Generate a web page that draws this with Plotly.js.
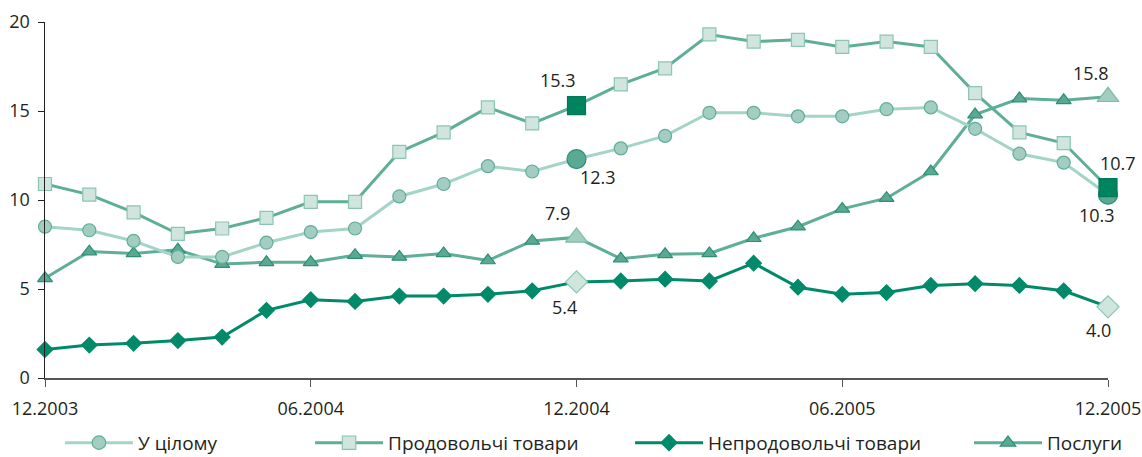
<!DOCTYPE html>
<html>
<head>
<meta charset="utf-8">
<script src="https://cdn.plot.ly/plotly-3.0.1.min.js"></script>
<style>html,body{margin:0;padding:0;background:#fff}#chart{width:1142px;height:457px}</style>
</head>
<body>
<div id="chart"></div>
<script>
const months = ["12.2003","01.2004","02.2004","03.2004","04.2004","05.2004","06.2004","07.2004","08.2004","09.2004","10.2004","11.2004","12.2004","01.2005","02.2005","03.2005","04.2005","05.2005","06.2005","07.2005","08.2005","09.2005","10.2005","11.2005","12.2005"];
const tickLabels = ["12.2003","06.2004","12.2004","06.2005","12.2005"];
const seriesNames = ["У цілому","Продовольчі товари","Непродовольчі товари","Послуги"];
const overall  = [8.5,8.3,7.7,6.8,6.8,7.6,8.2,8.4,10.2,10.9,11.9,11.6,12.3,12.9,13.6,14.9,14.9,14.7,14.7,15.1,15.2,14.0,12.6,12.1,10.3];
const food     = [10.9,10.3,9.3,8.1,8.4,9.0,9.9,9.9,12.7,13.8,15.2,14.3,15.3,16.5,17.4,19.3,18.9,19.0,18.6,18.9,18.6,16.0,13.8,13.2,10.7];
const nonfood  = [1.6,1.85,1.95,2.1,2.3,3.8,4.4,4.3,4.6,4.6,4.7,4.9,5.4,5.45,5.55,5.45,6.45,5.1,4.7,4.8,5.2,5.3,5.2,4.9,4.0];
const services = [5.6,7.1,7.0,7.2,6.4,6.5,6.5,6.9,6.8,7.0,6.6,7.7,7.9,6.7,6.95,7.0,7.85,8.5,9.5,10.1,11.6,14.8,15.7,15.6,15.8];
const highlighted = ["12.2004","12.2005"];

const isHi = m => highlighted.includes(m);
const arr = (a,b) => months.map(m => isHi(m) ? b : a);

const traces = [
  {name: seriesNames[0], y: overall, legend: "legend",
   line: {color: "#a3d4c5", width: 3},
   marker: {symbol: "circle", size: arr(13,19), color: arr("#a3cdc0","#5aa993"), opacity: 1,
            line: {color: arr("#5fae97","#2e8f74"), width: 1.2}}},
  {name: seriesNames[1], y: food, legend: "legend2",
   line: {color: "#5fae97", width: 3},
   marker: {symbol: "square", size: arr(13,18), color: arr("#cfe5dd","#00845f"), opacity: 1,
            line: {color: arr("#8ac6b3","#00785a"), width: 1.2}}},
  {name: seriesNames[2], y: nonfood, legend: "legend3",
   line: {color: "#008a69", width: 3},
   marker: {symbol: "diamond", size: arr(12,17), color: arr("#008a69","#cfe5dd"), opacity: 1,
            line: {color: arr("#008a69","#8ac6b3"), width: 1.2}}},
  {name: seriesNames[3], y: services, legend: "legend4",
   line: {color: "#5fae97", width: 3},
   marker: {symbol: "triangle-up", size: arr(13,19), color: arr("#5aa993","#a3cdc0"), opacity: 1,
            line: {color: arr("#2e8f74","#7cbdaa"), width: 1.2}}}
].map(t => Object.assign({x: months, type: "scatter", mode: "lines+markers", cliponaxis: false}, t));

// draw order: services, nonfood, overall, food (food on top)
const order = [3,2,0,1];
const data = order.map(i => traces[i]);

const labelShifts = [
  {series: food, idx: 12, dx: -19, dy: 26},
  {series: overall, idx: 12, dx: 21, dy: -18},
  {series: services, idx: 12, dx: -19, dy: 24},
  {series: nonfood, idx: 12, dx: -12, dy: -25},
  {series: services, idx: 24, dx: -17, dy: 24},
  {series: food, idx: 24, dx: 10, dy: 25},
  {series: overall, idx: 24, dx: -11, dy: -20},
  {series: nonfood, idx: 24, dx: -10, dy: -23}
];
const annotations = labelShifts.map(a => ({
  x: a.idx, y: a.series[a.idx], xref: "x", yref: "y",
  text: a.series[a.idx].toFixed(1), showarrow: false,
  xshift: a.dx, yshift: a.dy,
  font: {family: "Open Sans", size: 18, color: "#231f20"}
}));

const legFont = {family: "Open Sans", size: 19, color: "#231f20"};
const mkLeg = x => ({x: x, y: 0.031, xref: "container", yref: "container",
  xanchor: "left", yanchor: "middle", orientation: "h",
  font: legFont, bgcolor: "rgba(0,0,0,0)", itemwidth: 68, borderwidth: 0});

const layout = {
  width: 1142, height: 457,
  margin: {l: 45, r: 34, t: 22, b: 79},
  paper_bgcolor: "#fff", plot_bgcolor: "#fff",
  font: {family: "Open Sans", size: 18, color: "#231f20"},
  xaxis: {type: "category", range: [0, 24], tickvals: tickLabels, ticktext: tickLabels,
          showgrid: false, zeroline: false, showline: true, linecolor: "#555", linewidth: 1.5,
          ticks: "outside", ticklen: 7, tickcolor: "#555", ticklabelstandoff: 7,
          tickfont: {family: "Open Sans", size: 18, color: "#231f20"}},
  yaxis: {range: [0, 20], tickvals: [0,5,10,15,20], showgrid: false, zeroline: false,
          showline: true, linecolor: "#231f20", linewidth: 1.5,
          ticks: "outside", ticklen: 6, tickcolor: "#231f20", ticklabelstandoff: 4,
          tickfont: {family: "Open Sans", size: 18, color: "#231f20"}},
  showlegend: true,
  legend: mkLeg(0.0525),
  legend2: mkLeg(0.2715),
  legend3: mkLeg(0.5517),
  legend4: mkLeg(0.8485),
  annotations: annotations
};

Plotly.newPlot("chart", data, layout, {displayModeBar: false, staticPlot: true});
</script>
</body>
</html>
